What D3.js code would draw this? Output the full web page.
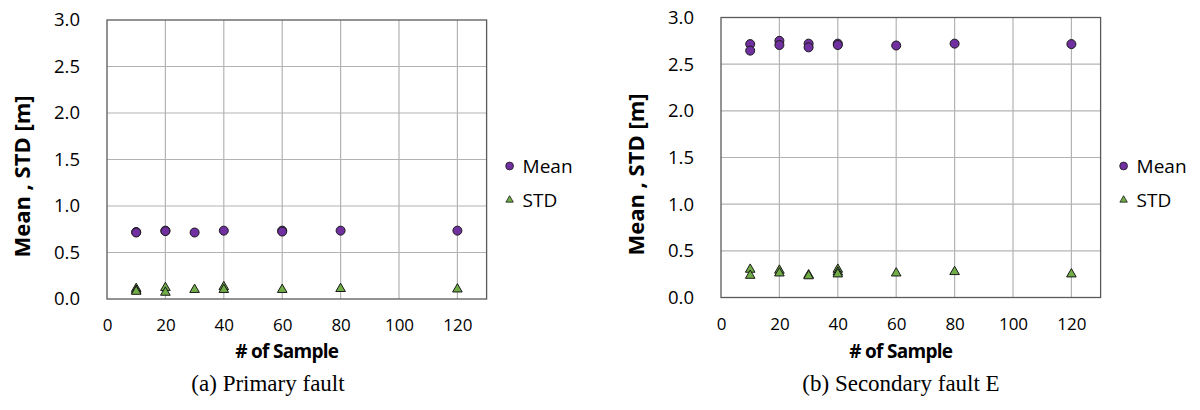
<!DOCTYPE html>
<html>
<head>
<meta charset="utf-8">
<script src="https://cdn.jsdelivr.net/npm/d3@7"></script>
<style>
  html, body { margin: 0; padding: 0; background: #fff; }
  svg { display: block; }
</style>
</head>
<body>
<svg id="chart" width="1200" height="410"></svg>
<script>
// Axis ticks shared by both panels
const sampleTicks = [0, 20, 40, 60, 80, 100, 120];
const valueTicks = [0, 0.5, 1.0, 1.5, 2.0, 2.5, 3.0];

// (a) Primary fault: [number of samples, value in m]
const primaryMean = [[10, 0.72], [10, 0.715], [20, 0.735], [20, 0.73], [30, 0.715],
  [40, 0.735], [60, 0.735], [60, 0.725], [80, 0.735], [120, 0.735]];
const primarySTD = [[10, 0.12], [10, 0.10], [10, 0.09], [20, 0.13], [20, 0.08],
  [30, 0.11], [40, 0.14], [40, 0.11], [60, 0.11], [80, 0.12], [120, 0.115]];

// (b) Secondary fault E
const secondaryMean = [[10, 2.715], [10, 2.645], [20, 2.75], [20, 2.705], [30, 2.72],
  [30, 2.68], [40, 2.72], [40, 2.705], [60, 2.70], [80, 2.72], [120, 2.715]];
const secondarySTD = [[10, 0.31], [10, 0.245], [20, 0.30], [20, 0.27], [30, 0.25],
  [30, 0.24], [40, 0.31], [40, 0.28], [40, 0.26], [60, 0.27], [80, 0.285], [120, 0.26]];

const seriesNames = ["Mean", "STD"];
const panelCaptions = ["(a) Primary fault", "(b) Secondary fault E"];
const xTitle = "# of Sample";
const yTitle = "Mean , STD [m]";

const svg = d3.select("#chart");
const meanFill = "#7030a0";
const stdFill = "#70ad47";
const tickFont = "'Open Sans', sans-serif";

const panels = [
  { left: 107, top: 20, bottom: 299, mean: primaryMean, std: primarySTD,
    caption: panelCaptions[0], captionX: 268 },
  { left: 721, top: 17.5, bottom: 297.5, mean: secondaryMean, std: secondarySTD,
    caption: panelCaptions[1], captionX: 901 }
];

const triangle = d3.symbol().type(d3.symbolTriangle).size(40);
const triangleSmall = d3.symbol().type(d3.symbolTriangle).size(24);

panels.forEach(p => {
  const width = 379.6;
  const x = d3.scaleLinear().domain([0, 130]).range([p.left, p.left + width]);
  const y = d3.scaleLinear().domain([0, 3]).range([p.bottom, p.top]);
  const g = svg.append("g");

  // gridlines
  g.append("g").selectAll("line").data(sampleTicks.filter(t => t > 0)).join("line")
    .attr("x1", d => x(d)).attr("x2", d => x(d))
    .attr("y1", y(0)).attr("y2", y(3))
    .attr("stroke", "#b3b3b3").attr("stroke-width", 1.2);
  g.append("g").selectAll("line").data(valueTicks.filter(t => t > 0 && t < 3)).join("line")
    .attr("x1", x(0)).attr("x2", x(130))
    .attr("y1", d => y(d)).attr("y2", d => y(d))
    .attr("stroke", "#b3b3b3").attr("stroke-width", 1.2);

  // plot frame
  g.append("rect")
    .attr("x", x(0)).attr("y", y(3))
    .attr("width", x(130) - x(0)).attr("height", y(0) - y(3))
    .attr("fill", "none").attr("stroke", "#5a5a5a").attr("stroke-width", 1.3);

  // axes (labels only)
  const xAxis = d3.axisBottom(x).tickValues(sampleTicks).tickSize(0).tickPadding(0);
  const xa = g.append("g").attr("transform", `translate(0,${y(0) + 20})`).call(xAxis);
  xa.select(".domain").remove();
  xa.selectAll("text").attr("font-family", tickFont).attr("font-size", 17)
    .attr("fill", "#000").attr("dy", "0.71em");

  const yAxis = d3.axisLeft(y).tickValues(valueTicks).tickFormat(d3.format(".1f"))
    .tickSize(0).tickPadding(0);
  const ya = g.append("g").attr("transform", `translate(${x(0) - 27},0)`).call(yAxis);
  ya.select(".domain").remove();
  ya.selectAll("text").attr("font-family", tickFont).attr("font-size", 18.5)
    .attr("fill", "#000");

  // axis titles
  g.append("text")
    .attr("x", x(65) - 10).attr("y", 358)
    .attr("text-anchor", "middle")
    .attr("font-family", tickFont).attr("font-weight", "bold").attr("font-size", 19)
    .attr("letter-spacing", -0.7)
    .text(xTitle);
  g.append("text")
    .attr("transform", `translate(${x(0) - 77},${(y(0) + y(3)) / 2 + 17}) rotate(-90)`)
    .attr("text-anchor", "middle")
    .attr("font-family", tickFont).attr("font-weight", "bold").attr("font-size", 22)
    .text(yTitle);

  // caption
  g.append("text")
    .attr("x", p.captionX).attr("y", 391)
    .attr("text-anchor", "middle")
    .attr("font-family", "'Liberation Serif', 'Times New Roman', serif").attr("font-size", 23)
    .text(p.caption);

  // series markers
  g.append("g").selectAll("circle").data(p.mean).join("circle")
    .attr("cx", d => x(d[0])).attr("cy", d => y(d[1]))
    .attr("r", 4.5)
    .attr("fill", meanFill).attr("stroke", "#1a1a1a").attr("stroke-width", 1);
  g.append("g").selectAll("path").data(p.std).join("path")
    .attr("d", triangle)
    .attr("transform", d => `translate(${x(d[0])},${y(d[1]) + 0.9})`)
    .attr("fill", stdFill).attr("stroke", "#1a1a1a").attr("stroke-width", 1);

  // legend
  const lx = x(130) + 23;
  const leg = g.append("g");
  leg.append("circle").attr("cx", lx).attr("cy", 166).attr("r", 3.9)
    .attr("fill", meanFill).attr("stroke", "#1a1a1a").attr("stroke-width", 0.8);
  leg.append("path").attr("d", triangleSmall)
    .attr("transform", `translate(${lx},${200})`)
    .attr("fill", stdFill).attr("stroke", "#1a1a1a").attr("stroke-width", 0.8);
  leg.selectAll("text").data(seriesNames).join("text")
    .attr("x", lx + 13).attr("y", (d, i) => 166 + i * 34)
    .attr("dy", "0.36em")
    .attr("font-family", tickFont).attr("font-size", 19)
    .text(d => d);
});
</script>
</body>
</html>
